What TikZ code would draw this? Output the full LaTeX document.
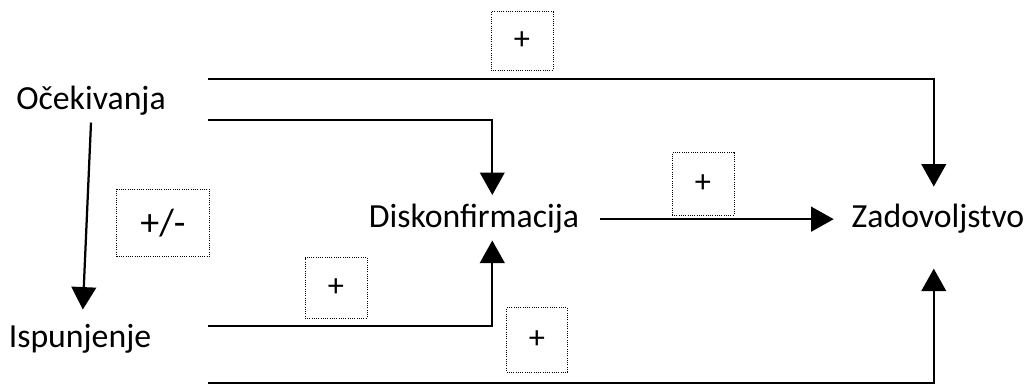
\documentclass[tikz,border=0pt]{standalone}
\usepackage{fontspec}
\setmainfont{Carlito}
\usetikzlibrary{arrows.meta, positioning}

\begin{document}
\begin{tikzpicture}[
  x = 0.025cm, y = -0.025cm,                      % one unit = one pixel
  > = {Triangle[length=16pt, width=17.5pt]},     % arrow head style
  line width = 1.6pt                             % thick connectors
  ]

  \tikzstyle{V1}=[      % Defines style for the variables
  anchor = base,
  inner sep = 4pt,
  font = \fontsize{24}{27}\selectfont
  ]

  \tikzstyle{P1}=[      % Defines style for the sign boxes
  draw,
  line width = 0.7pt,
  dash pattern = on 0.7pt off 0.9pt,
  inner sep = 0pt,
  font = \fontsize{23}{26}\selectfont
  ]

  \useasboundingbox (0,0) rectangle (1035,386);

  % Definition of the variables
  \node[V1] (oce) at (91,110) {Očekivanja};
  \node[V1] (isp) at (80,348) {Ispunjenje};
  \node[V1] (dis) at (474,228) {Diskonfirmacija};
  \node[V1] (zad) at (938,228) {Zadovoljstvo};

  % Free ends of the connectors
  \coordinate (o1) at (208,79);
  \coordinate (o2) at (208,120);
  \coordinate (i1) at (208,326);
  \coordinate (i2) at (208,383);

  % Sign boxes
  \node[P1, minimum width=1.55cm, minimum height=1.45cm] (pz) at (522,41) {+};
  \node[P1, minimum width=2.32cm, minimum height=1.68cm,
        font=\fontsize{27}{30}\selectfont] (pi) at (163,223) {+/-};
  \node[P1, minimum width=1.55cm, minimum height=1.52cm] (pd) at (336,288) {+};
  \node[P1, minimum width=1.55cm, minimum height=1.55cm] (pdz) at (703,184) {+};
  \node[P1, minimum width=1.52cm, minimum height=1.6cm] (piz) at (537,340) {+};

  % Connectors
  \draw[->] (oce.south) -- ([xshift=2pt, yshift=6pt]isp.north);
  \draw[->] (o1) -| ([xshift=-3pt, yshift=8pt]zad.north);
  \draw[->] (o2) -| ([xshift=13pt, yshift=2pt]dis.north);
  \draw[->] (i1) -| ([xshift=13pt]dis.south);
  \draw[->] (i2) -| ([xshift=-3pt, yshift=-20pt]zad.south);
  \draw[->, shorten <=10pt, shorten >=8pt] (dis.east) -- (zad.west);
\end{tikzpicture}
\end{document}
